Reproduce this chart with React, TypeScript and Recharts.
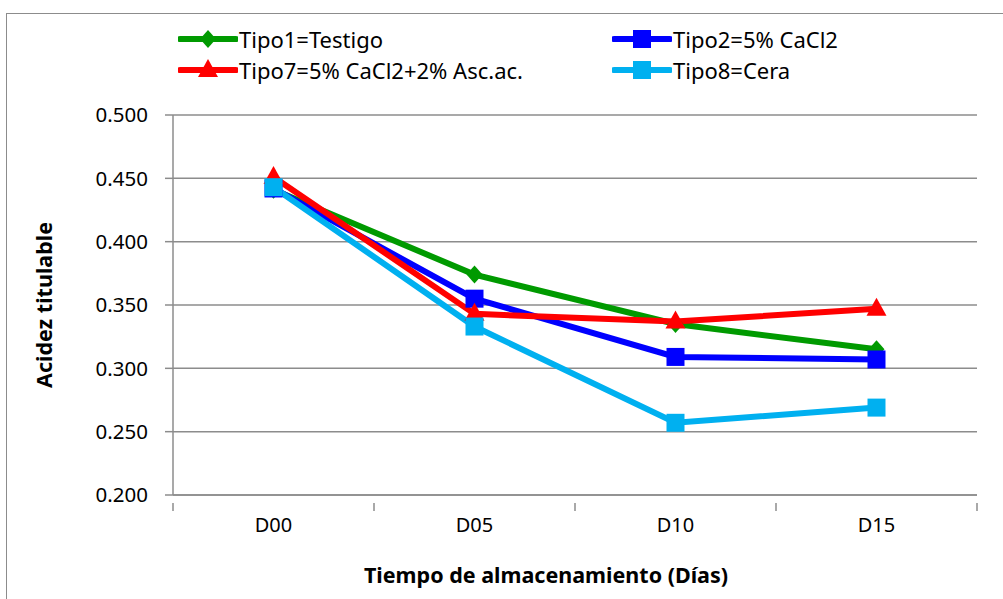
import { LineChart, Line, XAxis, YAxis, CartesianGrid, Label } from 'recharts'

const categories = ['D00', 'D05', 'D10', 'D15']
const tipo1 = [0.441, 0.374, 0.335, 0.315]
const tipo2 = [0.442, 0.355, 0.309, 0.307]
const tipo7 = [0.451, 0.343, 0.337, 0.347]
const tipo8 = [0.443, 0.333, 0.257, 0.269]
const yTicks = [0.2, 0.25, 0.3, 0.35, 0.4, 0.45, 0.5]

const seriesNames = ['Tipo1=Testigo', 'Tipo2=5% CaCl2', 'Tipo7=5% CaCl2+2% Asc.ac.', 'Tipo8=Cera']

const data = categories.map((c, i) => ({
  idx: i,
  cat: c,
  t1: tipo1[i],
  t2: tipo2[i],
  t7: tipo7[i],
  t8: tipo8[i],
}))

const FONT = '"Noto Sans", "Open Sans", sans-serif'
const GRID = '#8c8c8c'

type Shape = 'diamond' | 'square' | 'triangle'

function markerPath(shape: Shape, cx: number, cy: number) {
  if (shape === 'diamond') return `M${cx},${cy - 9} L${cx + 8},${cy} L${cx},${cy + 9} L${cx - 8},${cy} Z`
  if (shape === 'triangle') return `M${cx},${cy - 11} L${cx + 10},${cy + 7} L${cx - 10},${cy + 7} Z`
  return `M${cx - 9},${cy - 9} h18 v18 h-18 Z`
}

function makeDot(shape: Shape, color: string) {
  // eslint-disable-next-line @typescript-eslint/no-explicit-any
  return (props: any) => {
    const { cx, cy, index } = props
    if (cx == null || cy == null) return <g key={index} />
    return <path key={index} d={markerPath(shape, cx, cy)} fill={color} />
  }
}

const series = [
  { key: 't1', name: seriesNames[0], color: '#009a00', shape: 'diamond' as Shape },
  { key: 't2', name: seriesNames[1], color: '#0000ff', shape: 'square' as Shape },
  { key: 't7', name: seriesNames[2], color: '#ff0000', shape: 'triangle' as Shape },
  { key: 't8', name: seriesNames[3], color: '#00b0f0', shape: 'square' as Shape },
]

// eslint-disable-next-line @typescript-eslint/no-explicit-any
function XTick(props: any) {
  const { x, y, payload } = props
  const v = payload.value as number
  if (Math.abs(v - Math.round(v)) > 0.01) {
    return <line x1={x} y1={y} x2={x} y2={y + 8} stroke={GRID} strokeWidth={1.5} />
  }
  return (
    <text x={x} y={y + 29} textAnchor="middle" fontSize={20} fontFamily={FONT} fill="#000">
      {categories[Math.round(v)]}
    </text>
  )
}

function LegendIcon({ shape, color }: { shape: Shape; color: string }) {
  return (
    <svg width={60} height={24} style={{ display: 'block' }}>
      <line x1={2} y1={12} x2={58} y2={12} stroke={color} strokeWidth={6} strokeLinecap="round" />
      <path d={markerPath(shape, 30, 12)} fill={color} />
    </svg>
  )
}

export default function App() {
  const legendPos = [
    { left: 178, top: 24 },
    { left: 612, top: 24 },
    { left: 178, top: 55 },
    { left: 612, top: 55 },
  ]
  return (
    <div style={{ position: 'absolute', left: 0, top: 0, width: 1003, height: 599, overflow: 'hidden', background: '#fff' }}>
      <div
        style={{
          position: 'absolute',
          left: 6,
          top: 13,
          width: 1010,
          height: 620,
          border: '1.5px solid #8c8c8c',
          boxSizing: 'border-box',
        }}
      />
      <LineChart
        width={1003}
        height={599}
        data={data}
        margin={{ top: 115, right: 26, left: 0, bottom: 0 }}
        style={{ position: 'absolute', left: 0, top: 0 }}
      >
        <CartesianGrid vertical={false} stroke={GRID} strokeWidth={1.5} />
        <XAxis
          dataKey="idx"
          type="number"
          domain={[-0.5, 3.5]}
          ticks={[-0.5, 0, 0.5, 1, 1.5, 2, 2.5, 3, 3.5]}
          interval={0}
          height={104}
          axisLine={{ stroke: GRID, strokeWidth: 1.5 }}
          tickLine={false}
          tick={<XTick />}
        >
          <Label
            value="Tiempo de almacenamiento (Días)"
            position="insideBottom"
            offset={16}
            dx={-29}
            style={{ fontFamily: FONT, fontSize: 21.5, fontWeight: 'bold', fill: '#000' }}
          />
        </XAxis>
        <YAxis
          width={173}
          domain={[0.2, 0.5]}
          ticks={yTicks}
          interval={0}
          tickFormatter={(v: number) => v.toFixed(3)}
          axisLine={{ stroke: GRID, strokeWidth: 1.5 }}
          tickLine={{ stroke: GRID, strokeWidth: 1.5 }}
          tickSize={8}
          tickMargin={17}
          tick={{ fontFamily: FONT, fontSize: 20.5, fill: '#000' }}
        >
          <Label
            value="Acidez titulable"
            angle={-90}
            position="insideLeft"
            offset={44}
            style={{ fontFamily: FONT, fontSize: 21.5, fontWeight: 'bold', fill: '#000', textAnchor: 'middle' }}
          />
        </YAxis>
        {series.map((s) => (
          <Line
            key={s.key}
            dataKey={s.key}
            name={s.name}
            type="linear"
            stroke={s.color}
            strokeWidth={6}
            dot={makeDot(s.shape, s.color)}
            activeDot={false}
            isAnimationActive={false}
          />
        ))}
      </LineChart>
      {series.map((s, i) => (
        <div
          key={s.key}
          style={{
            position: 'absolute',
            left: legendPos[i].left,
            top: legendPos[i].top,
            display: 'flex',
            alignItems: 'center',
            fontFamily: FONT,
            fontSize: 22,
            color: '#000',
            whiteSpace: 'nowrap',
          }}
        >
          <LegendIcon shape={s.shape} color={s.color} />
          <span style={{ marginLeft: 1 }}>{s.name}</span>
        </div>
      ))}
    </div>
  )
}
